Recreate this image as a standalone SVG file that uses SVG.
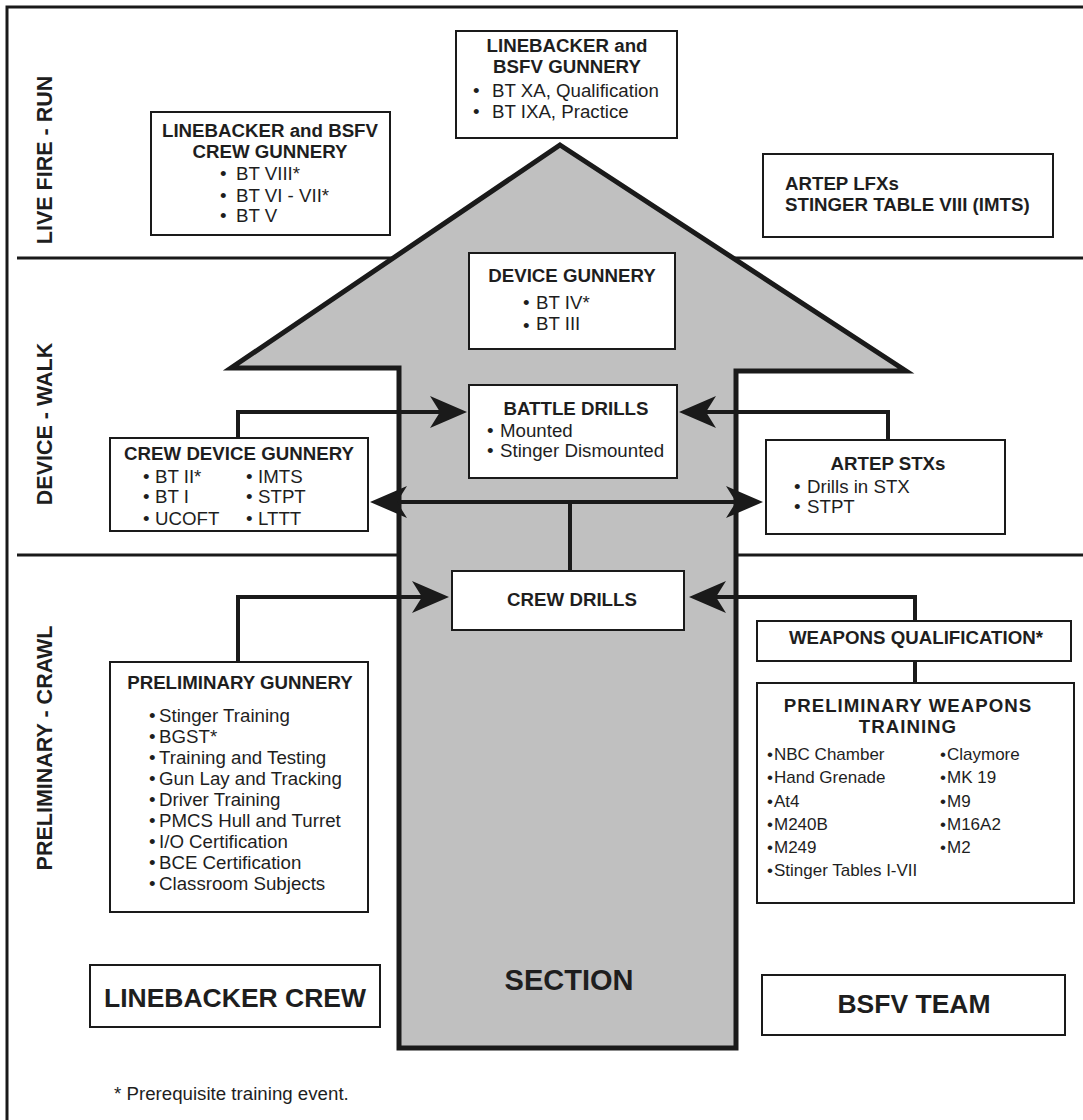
<svg xmlns="http://www.w3.org/2000/svg" width="1083" height="1120" viewBox="0 0 1083 1120">
<defs>
<style>
.box{fill:#fff;stroke:#1a1a1a;stroke-width:2}
.t{font-family:"Liberation Sans",Arial,sans-serif;font-size:18.7px;fill:#1e1e1e}
.b{font-weight:bold}
.m{text-anchor:middle}
.s17{font-size:17px}
.conn{fill:none;stroke:#1a1a1a;stroke-width:4}
.div{stroke:#1a1a1a;stroke-width:3;fill:none}
.side{font-family:"Liberation Sans",Arial,sans-serif;font-size:21.5px;font-weight:bold;fill:#1e1e1e;text-anchor:middle}
</style>
<marker id="ah" viewBox="-40 -20 44 40" refX="-12" refY="0" markerWidth="44" markerHeight="40" markerUnits="userSpaceOnUse" orient="auto-start-reverse">
<path d="M0,0 L-37,-16 L-27,0 L-37,16 Z" fill="#1a1a1a"/>
</marker>
</defs>
<rect width="1083" height="1120" fill="#fff"/>
<rect x="7" y="7" width="1100" height="1140" fill="none" stroke="#1a1a1a" stroke-width="3"/>
<g id="dividers">
<line class="div" x1="17" y1="258" x2="1083" y2="258"/>
<line class="div" x1="17" y1="555" x2="1083" y2="555"/>
</g>
<g id="section-arrow">
<polygon points="560,145 906,371 736,371 736,1048 399,1048 399,368 231,368" fill="#c0c0c0" stroke="#1a1a1a" stroke-width="5" stroke-linejoin="miter"/>
<text class="t b m" x="569" y="990" style="font-size:29px">SECTION</text>
</g>
<g id="phase-labels">
<text class="side" transform="translate(52,160) rotate(-90)">LIVE FIRE - RUN</text>
<text class="side" transform="translate(52,424) rotate(-90)">DEVICE - WALK</text>
<text class="side" transform="translate(52,748) rotate(-90)">PRELIMINARY - CRAWL</text>
</g>
<g id="connectors">
<path class="conn" d="M238,438 V412 H455" marker-end="url(#ah)"/>
<path class="conn" d="M888,440 V412 H691" marker-end="url(#ah)"/>
<path class="conn" d="M382,502 H751" marker-start="url(#ah)" marker-end="url(#ah)"/>
<path class="conn" d="M570,571 V502"/>
<path class="conn" d="M238,662 V597 H437" marker-end="url(#ah)"/>
<path class="conn" d="M915,621 V597 H701" marker-end="url(#ah)"/>
<path class="conn" d="M915,661 V683"/>
</g>
<g id="lb-bsfv-gunnery">
<rect class="box" x="456" y="31" width="221" height="107"/>
<text class="t b m" x="567" y="52">LINEBACKER and</text>
<text class="t b m" x="567" y="73">BSFV GUNNERY</text>
<text class="t" x="473" y="97">•</text><text class="t" x="492" y="97">BT XA, Qualification</text>
<text class="t" x="473" y="118">•</text><text class="t" x="492" y="118">BT IXA, Practice</text>
</g>
<g id="crew-gunnery">
<rect class="box" x="151" y="112" width="239" height="123"/>
<text class="t b m" x="270" y="137">LINEBACKER and BSFV</text>
<text class="t b m" x="270" y="158">CREW GUNNERY</text>
<text class="t" x="220" y="180">•</text><text class="t" x="236" y="180">BT VIII*</text>
<text class="t" x="220" y="202">•</text><text class="t" x="236" y="202">BT VI - VII*</text>
<text class="t" x="220" y="222">•</text><text class="t" x="236" y="222">BT V</text>
</g>
<g id="artep-lfx">
<rect class="box" x="763" y="154" width="290" height="83"/>
<text class="t b" x="785" y="190">ARTEP LFXs</text>
<text class="t b" x="785" y="211">STINGER TABLE VIII (IMTS)</text>
</g>
<g id="device-gunnery">
<rect class="box" x="469" y="253" width="206" height="96"/>
<text class="t b m" x="572" y="282">DEVICE GUNNERY</text>
<text class="t" x="523" y="309">•</text><text class="t" x="536" y="309">BT IV*</text>
<text class="t" x="523" y="332">•</text><text class="t" x="536" y="330">BT III</text>
</g>
<g id="battle-drills">
<rect class="box" x="469" y="385" width="208" height="93"/>
<text class="t b m" x="576" y="415">BATTLE DRILLS</text>
<text class="t" x="487" y="437">•</text><text class="t" x="500" y="437">Mounted</text>
<text class="t" x="487" y="457">•</text><text class="t" x="500" y="457">Stinger Dismounted</text>
</g>
<g id="crew-device-gunnery">
<rect class="box" x="110" y="438" width="258" height="93"/>
<text class="t b m" x="239" y="460">CREW DEVICE GUNNERY</text>
<text class="t" x="143" y="483">•</text><text class="t" x="155" y="483">BT II*</text>
<text class="t" x="143" y="503">•</text><text class="t" x="155" y="503">BT I</text>
<text class="t" x="143" y="525">•</text><text class="t" x="155" y="525">UCOFT</text>
<text class="t" x="246" y="483">•</text><text class="t" x="258" y="483">IMTS</text>
<text class="t" x="246" y="503">•</text><text class="t" x="258" y="503">STPT</text>
<text class="t" x="246" y="525">•</text><text class="t" x="258" y="525">LTTT</text>
</g>
<g id="artep-stx">
<rect class="box" x="766" y="440" width="239" height="94"/>
<text class="t b m" x="888" y="470">ARTEP STXs</text>
<text class="t" x="794" y="493">•</text><text class="t" x="807" y="493">Drills in STX</text>
<text class="t" x="794" y="513">•</text><text class="t" x="807" y="513">STPT</text>
</g>
<g id="crew-drills">
<rect class="box" x="452" y="571" width="232" height="59"/>
<text class="t b m" x="572" y="606">CREW DRILLS</text>
</g>
<g id="preliminary-gunnery">
<rect class="box" x="110" y="662" width="258" height="250"/>
<text class="t b m" x="240" y="689">PRELIMINARY GUNNERY</text>
<text class="t" x="149" y="722">•</text><text class="t" x="159" y="722">Stinger Training</text>
<text class="t" x="149" y="743">•</text><text class="t" x="159" y="743">BGST*</text>
<text class="t" x="149" y="764">•</text><text class="t" x="159" y="764">Training and Testing</text>
<text class="t" x="149" y="785">•</text><text class="t" x="159" y="785">Gun Lay and Tracking</text>
<text class="t" x="149" y="806">•</text><text class="t" x="159" y="806">Driver Training</text>
<text class="t" x="149" y="827">•</text><text class="t" x="159" y="827">PMCS Hull and Turret</text>
<text class="t" x="149" y="848">•</text><text class="t" x="159" y="848">I/O Certification</text>
<text class="t" x="149" y="869">•</text><text class="t" x="159" y="869">BCE Certification</text>
<text class="t" x="149" y="890">•</text><text class="t" x="159" y="890">Classroom Subjects</text>
</g>
<g id="weapons-qualification">
<rect class="box" x="757" y="621" width="314" height="40"/>
<text class="t b m" x="916" y="644">WEAPONS QUALIFICATION*</text>
</g>
<g id="preliminary-weapons-training">
<rect class="box" x="757" y="683" width="317" height="220"/>
<text class="t b m" x="908" y="712" style="letter-spacing:1px">PRELIMINARY WEAPONS</text>
<text class="t b m" x="908" y="733" style="letter-spacing:1px">TRAINING</text>
<text class="t s17" x="767" y="760">•</text><text class="t s17" x="774" y="760">NBC Chamber</text>
<text class="t s17" x="767" y="783">•</text><text class="t s17" x="774" y="783">Hand Grenade</text>
<text class="t s17" x="767" y="807">•</text><text class="t s17" x="774" y="807">At4</text>
<text class="t s17" x="767" y="830">•</text><text class="t s17" x="774" y="830">M240B</text>
<text class="t s17" x="767" y="853">•</text><text class="t s17" x="774" y="853">M249</text>
<text class="t s17" x="767" y="876">•</text><text class="t s17" x="774" y="876">Stinger Tables I-VII</text>
<text class="t s17" x="940" y="760">•</text><text class="t s17" x="947" y="760">Claymore</text>
<text class="t s17" x="940" y="783">•</text><text class="t s17" x="947" y="783">MK 19</text>
<text class="t s17" x="940" y="807">•</text><text class="t s17" x="947" y="807">M9</text>
<text class="t s17" x="940" y="830">•</text><text class="t s17" x="947" y="830">M16A2</text>
<text class="t s17" x="940" y="853">•</text><text class="t s17" x="947" y="853">M2</text>
</g>
<g id="linebacker-crew">
<rect class="box" x="90" y="965" width="290" height="62"/>
<text class="t b m" x="235" y="1007" style="font-size:26.5px">LINEBACKER CREW</text>
</g>
<g id="bsfv-team">
<rect class="box" x="762" y="975" width="303" height="60"/>
<text class="t b m" x="914" y="1013" style="font-size:26.5px">BSFV TEAM</text>
</g>
<text class="t" x="114" y="1100">* Prerequisite training event.</text>
</svg>
